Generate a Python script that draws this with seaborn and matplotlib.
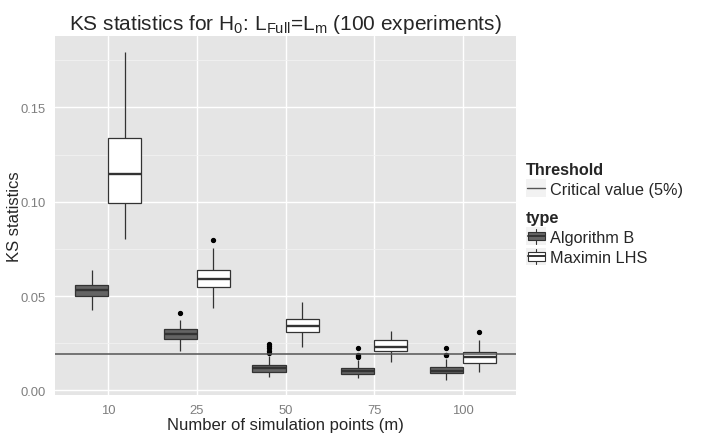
import numpy as np
import pandas as pd
import matplotlib
matplotlib.use("Agg")
import matplotlib.pyplot as plt
from matplotlib.lines import Line2D
from matplotlib.patches import Rectangle
from matplotlib.legend_handler import HandlerBase
from matplotlib.ticker import MultipleLocator
import seaborn as sns

# Values
sizes = ["10", "25", "50", "75", "100"]
types = ["Algorithm B", "Maximin LHS"]
critical_value = 0.0193

# Algorithm B: lower whisker, q1, median, q3, upper whisker, outliers
algb_lo = [0.0426, 0.0208, 0.0073, 0.0066, 0.0057]
algb_q1 = [0.0502, 0.0271, 0.0097, 0.0087, 0.0091]
algb_med = [0.0531, 0.0298, 0.0118, 0.0102, 0.0105]
algb_q3 = [0.0560, 0.0326, 0.0133, 0.0121, 0.0126]
algb_hi = [0.0638, 0.0373, 0.0180, 0.0160, 0.0167]
algb_out = [[], [0.0410], [0.0197, 0.0211, 0.0224, 0.0237, 0.0246],
            [0.0175, 0.0180, 0.0188, 0.0225], [0.0186, 0.0190, 0.0225]]

# Maximin LHS
mlhs_lo = [0.0801, 0.0439, 0.0230, 0.0153, 0.0096]
mlhs_q1 = [0.0995, 0.0550, 0.0308, 0.0211, 0.0146]
mlhs_med = [0.1148, 0.0589, 0.0343, 0.0232, 0.0179]
mlhs_q3 = [0.1336, 0.0637, 0.0380, 0.0267, 0.0204]
mlhs_hi = [0.1795, 0.0753, 0.0467, 0.0315, 0.0269]
mlhs_out = [[], [0.0797], [], [], [0.0312]]

FILLS = {"Algorithm B": "#646464", "Maximin LHS": "#FFFFFF"}
EDGE = "#333333"


def expand(lo, q1, med, q3, hi, out):
    # sample whose quartiles / whiskers reproduce the read-off summary
    return [lo] + [q1] * 10 + [med] * 10 + [q3] * 10 + [hi] + list(out)


rows = []
for name, stats in [("Algorithm B", (algb_lo, algb_q1, algb_med, algb_q3, algb_hi, algb_out)),
                    ("Maximin LHS", (mlhs_lo, mlhs_q1, mlhs_med, mlhs_q3, mlhs_hi, mlhs_out))]:
    for i, m in enumerate(sizes):
        vals = expand(*(s[i] for s in stats))
        rows += [{"m": m, "type": name, "ks": v} for v in vals]
df = pd.DataFrame(rows)


class BoxKey(HandlerBase):
    def __init__(self, fill):
        super().__init__()
        self.fill = fill

    def create_artists(self, legend, orig_handle, xdescent, ydescent, width, height, fontsize, trans):
        x0, y0 = -xdescent, -ydescent
        bg = Rectangle((x0, y0), width, height, facecolor="#F2F2F2", edgecolor="none", transform=trans)
        cx = x0 + width / 2
        whisk = Line2D([cx, cx], [y0 + 1, y0 + height - 1], color=EDGE, lw=0.8, transform=trans)
        box = Rectangle((x0 + width * 0.08, y0 + height * 0.27), width * 0.84, height * 0.46,
                        facecolor=self.fill, edgecolor=EDGE, lw=0.8, transform=trans)
        med = Line2D([x0 + width * 0.08, x0 + width * 0.92], [y0 + height / 2] * 2,
                     color=EDGE, lw=1.4, transform=trans)
        return [bg, whisk, box, med]


class LineKey(HandlerBase):
    def create_artists(self, legend, orig_handle, xdescent, ydescent, width, height, fontsize, trans):
        x0, y0 = -xdescent, -ydescent
        bg = Rectangle((x0, y0), width, height, facecolor="#F2F2F2", edgecolor="none", transform=trans)
        ln = Line2D([x0 + 1, x0 + width - 1], [y0 + height / 2] * 2, color="#555555", lw=1.0, transform=trans)
        return [bg, ln]


def main():
    sns.set_style("darkgrid", {"axes.facecolor": "#E5E5E5", "grid.color": "white"})
    plt.rcParams["font.family"] = ["Liberation Sans", "DejaVu Sans"]
    plt.rcParams["mathtext.fontset"] = "custom"
    plt.rcParams["mathtext.rm"] = "Liberation Sans"

    fig = plt.figure(figsize=(7.06, 4.35), dpi=100)
    ax = fig.add_axes([55 / 706, 1 - 396 / 435, (516 - 55) / 706, (396 - 37) / 435])

    sns.boxplot(data=df, x="m", y="ks", hue="type", order=sizes, hue_order=types,
                palette=FILLS, width=0.75, gap=0, saturation=1, showcaps=False,
                linecolor=EDGE, linewidth=0.9, legend=False, ax=ax,
                flierprops=dict(marker="o", markerfacecolor="black", markeredgecolor="black",
                                markersize=2.8, linestyle="none"),
                medianprops=dict(color=EDGE, linewidth=1.7, solid_capstyle="butt"))

    ax.axhline(critical_value, color="#555555", lw=1.1, zorder=5)

    ax.set_xlim(-0.6, 4.6)
    ax.set_ylim(-0.0024, 0.1878)
    ax.set_yticks([0.0, 0.05, 0.10, 0.15])
    ax.set_yticklabels(["0.00", "0.05", "0.10", "0.15"])
    ax.yaxis.set_minor_locator(MultipleLocator(0.025))
    ax.grid(True, which="major", color="white", lw=1.0)
    ax.grid(True, which="minor", axis="y", color="#F2F2F2", lw=0.6)
    ax.set_axisbelow(True)
    for s in ax.spines.values():
        s.set_visible(False)
    ax.tick_params(which="major", length=4, width=0.8, color="#7F7F7F",
                   labelcolor="#7F7F7F", labelsize=9.4, pad=2.5)
    ax.tick_params(which="minor", length=0)

    ax.set_xlabel("Number of simulation points (m)", fontsize=12, labelpad=0.5)
    ax.set_ylabel("KS statistics", fontsize=12)
    ax.yaxis.set_label_coords(-0.072, 0.5)
    ax.set_title(r"KS statistics for H$_{\mathregular{0}}$: L$_{\mathregular{Full}}$=L$_{\mathregular{m}}$ (100 experiments)",
                 fontsize=15, pad=5)

    leg_kw = dict(loc="upper left", bbox_transform=fig.transFigure, frameon=False, alignment="left",
                  handlelength=1.25, handleheight=1.3, handletextpad=0.2, borderpad=0,
                  borderaxespad=0, labelspacing=0.15, fontsize=11.7,
                  title_fontproperties={"weight": "bold", "size": 11.7})

    leg1 = ax.legend(handles=[Line2D([], [])], labels=["Critical value (5%)"], title="Threshold",
                     bbox_to_anchor=(526 / 706, 1 - 163 / 435),
                     handler_map={Line2D: LineKey()}, **leg_kw)
    ax.add_artist(leg1)

    h_a = Rectangle((0, 0), 1, 1)
    h_b = Rectangle((0, 0), 1, 1)
    ax.legend(handles=[h_a, h_b], labels=types, title="type",
              bbox_to_anchor=(526 / 706, 1 - 211 / 435),
              handler_map={h_a: BoxKey(FILLS["Algorithm B"]), h_b: BoxKey(FILLS["Maximin LHS"])},
              **leg_kw)

    fig.savefig("out.png", dpi=100)


if __name__ == "__main__":
    main()
